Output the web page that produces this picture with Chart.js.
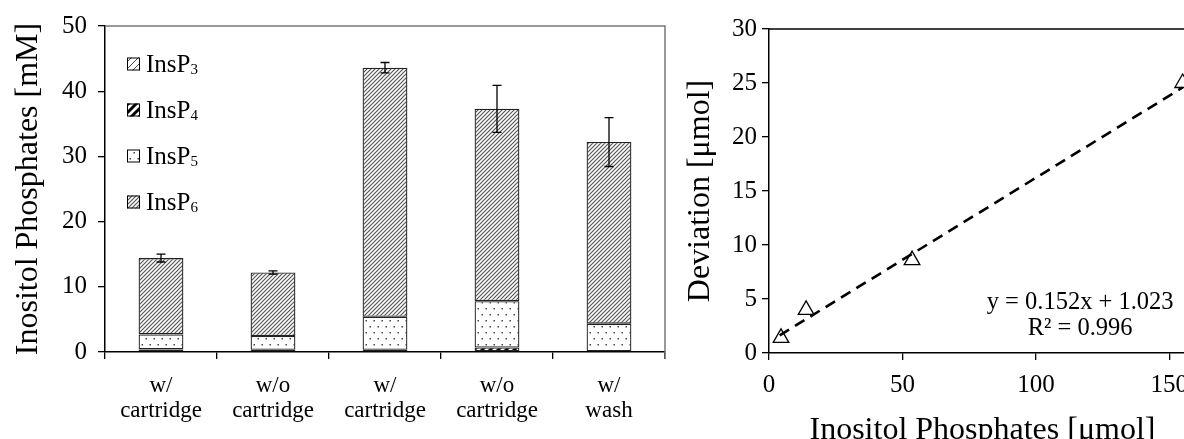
<!DOCTYPE html>
<html>
<head>
<meta charset="utf-8">
<script src="https://cdn.jsdelivr.net/npm/chart.js@4.4.1/dist/chart.umd.min.js"></script>
<style>
  html, body { margin: 0; padding: 0; background: #fff; overflow: hidden; width: 1184px; height: 439px; }
  #wrap { position: relative; width: 1184px; height: 439px; overflow: hidden; }
  #left { position: absolute; left: 0; top: 0; }
  #right { position: absolute; left: 680px; top: 0; }
</style>
</head>
<body>
<div id="wrap">
  <canvas id="left" width="680" height="439"></canvas>
  <canvas id="right" width="560" height="460"></canvas>
</div>
<script>
// ---- data: stacked inositol phosphate composition (mM) ----
const categories = [['w/', 'cartridge'], ['w/o', 'cartridge'], ['w/', 'cartridge'], ['w/o', 'cartridge'], ['w/', 'wash']];
const seriesNames = ['InsP3', 'InsP4', 'InsP5', 'InsP6'];
const insP3 = [0, 0, 0, 0, 0];
const insP4 = [0.4, 0.35, 0.35, 0.7, 0];
const insP5 = [2.3, 2.1, 5.05, 7.1, 4.35];
const insP6 = [11.7, 9.75, 38.2, 29.5, 27.85];
const totalError = [0.6, 0.25, 0.8, 3.6, 3.75];
const leftTicks = [0, 10, 20, 30, 40, 50];

// ---- data: deviation vs. amount (µmol) ----
const amountX = [4.5, 13.9, 53.6, 155];
const deviationY = [1.4, 4.0, 8.6, 25.0];
const fitSlope = 0.152;
const fitIntercept = 1.023;
const fitR2 = 0.996;
const fitRange = [4, 155];
const rightXTicks = [0, 50, 100, 150];
const rightXMax = 160;
const rightYTicks = [0, 5, 10, 15, 20, 25, 30];

const SERIF = '"Liberation Serif", "Times New Roman", serif';

// ---- fill patterns ----
function hatchPattern(size, lineWidth, color) {
  const c = document.createElement('canvas');
  c.width = size; c.height = size;
  const g = c.getContext('2d');
  g.fillStyle = '#fff';
  g.fillRect(0, 0, size, size);
  g.strokeStyle = color;
  g.lineWidth = lineWidth;
  g.beginPath();
  g.moveTo(0, size); g.lineTo(size, 0);
  g.moveTo(-size, size); g.lineTo(size, -size);
  g.moveTo(0, 2 * size); g.lineTo(2 * size, 0);
  g.stroke();
  return g.createPattern(c, 'repeat');
}
function dotPattern() {
  const c = document.createElement('canvas');
  c.width = 8; c.height = 12;
  const g = c.getContext('2d');
  g.fillStyle = '#fff';
  g.fillRect(0, 0, 8, 12);
  g.fillStyle = '#444';
  g.fillRect(1.5, 2, 1.5, 1.5);
  g.fillRect(5.5, 8, 1.5, 1.5);
  return g.createPattern(c, 'repeat');
}
const ctxL = document.getElementById('left').getContext('2d');
const fills = [
  hatchPattern(7, 0.9, '#333'),
  hatchPattern(8, 3, '#000'),
  dotPattern(),
  hatchPattern(4, 1.2, '#555')
];
const seriesValues = [insP3, insP4, insP5, insP6];

// legend drawn inside the plot, with subscript digits
const insideLegend = {
  id: 'insideLegend',
  afterDraw(chart) {
    const { ctx, chartArea } = chart;
    ctx.save();
    const x0 = chartArea.left + 22;
    seriesNames.forEach((name, i) => {
      const cy = chartArea.top + 38 + i * 46;
      ctx.fillStyle = fills[i];
      ctx.fillRect(x0, cy - 6.5, 13, 13);
      ctx.strokeStyle = '#000';
      ctx.lineWidth = 1;
      ctx.strokeRect(x0 + 0.5, cy - 6.5 + 0.5, 12, 12);
      ctx.fillStyle = '#000';
      ctx.textBaseline = 'middle';
      ctx.textAlign = 'left';
      ctx.font = '25px ' + SERIF;
      const base = name.slice(0, 4);
      ctx.fillText(base, x0 + 19, cy + 1);
      const w = ctx.measureText(base).width;
      ctx.font = '15px ' + SERIF;
      ctx.fillText(name.slice(4), x0 + 19 + w, cy + 6);
    });
    ctx.restore();
  }
};

// frame (top/right) around the plot
const plotFrame = {
  id: 'plotFrame',
  beforeDatasetsDraw(chart) {
    const { ctx, chartArea } = chart;
    ctx.save();
    ctx.strokeStyle = '#777';
    ctx.lineWidth = 1.5;
    ctx.beginPath();
    ctx.moveTo(chartArea.left, chartArea.top);
    ctx.lineTo(chartArea.right, chartArea.top);
    ctx.lineTo(chartArea.right, chartArea.bottom + 7);
    ctx.stroke();
    ctx.restore();
  }
};

// error bars on the total of each stack
const stackErrorBars = {
  id: 'stackErrorBars',
  afterDatasetsDraw(chart) {
    const { ctx } = chart;
    const y = chart.scales.y;
    const top = chart.getDatasetMeta(chart.data.datasets.length - 1);
    ctx.save();
    ctx.strokeStyle = '#000';
    ctx.lineWidth = 1.3;
    categories.forEach((_, i) => {
      const total = seriesValues.reduce((s, arr) => s + arr[i], 0);
      const x = top.data[i].x;
      const y1 = y.getPixelForValue(total + totalError[i]);
      const y2 = y.getPixelForValue(total - totalError[i]);
      ctx.beginPath();
      ctx.moveTo(x, y1); ctx.lineTo(x, y2);
      ctx.moveTo(x - 4.5, y1); ctx.lineTo(x + 4.5, y1);
      ctx.moveTo(x - 4.5, y2); ctx.lineTo(x + 4.5, y2);
      ctx.stroke();
    });
    ctx.restore();
  }
};

new Chart(ctxL, {
  type: 'bar',
  data: {
    labels: categories,
    datasets: seriesNames.map((name, i) => ({
      label: name,
      data: seriesValues[i],
      backgroundColor: fills[i],
      borderColor: '#222',
      borderWidth: 1.3,
      borderSkipped: false,
      barPercentage: 0.4,
      categoryPercentage: 1
    }))
  },
  options: {
    responsive: false,
    animation: false,
    devicePixelRatio: 1,
    layout: { padding: { left: 0, top: 25, right: 15, bottom: 0 } },
    plugins: { legend: { display: false }, tooltip: { enabled: false } },
    scales: {
      x: {
        stacked: true,
        afterFit(s) { s.height = 87; },
        grid: { drawOnChartArea: false, color: '#000', tickLength: 7, lineWidth: 1.3, offset: true },
        border: { color: '#000', width: 1.5 },
        ticks: { color: '#000', font: { family: SERIF, size: 23, lineHeight: 1.1 }, padding: 14, maxRotation: 0 }
      },
      y: {
        stacked: true,
        min: leftTicks[0],
        max: leftTicks[leftTicks.length - 1],
        afterFit(s) { s.width = 105; },
        afterBuildTicks(s) { s.ticks = leftTicks.map(v => ({ value: v })); },
        grid: { drawOnChartArea: false, color: '#000', tickLength: 7, lineWidth: 1.3 },
        border: { color: '#000', width: 1.5 },
        ticks: { color: '#000', font: { family: SERIF, size: 25 }, padding: 11 },
        title: { display: true, text: 'Inositol Phosphates [mM]', color: '#000', font: { family: SERIF, size: 32 }, padding: { top: 9, bottom: 0 } }
      }
    }
  },
  plugins: [plotFrame, stackErrorBars, insideLegend]
});

// ---- right chart ----
const fitText = {
  id: 'fitText',
  afterDraw(chart) {
    const { ctx, scales } = chart;
    ctx.save();
    ctx.fillStyle = '#000';
    ctx.font = '24.5px ' + SERIF;
    ctx.textAlign = 'center';
    ctx.textBaseline = 'middle';
    const cx = scales.x.getPixelForValue(116.6);
    ctx.fillText('y = ' + fitSlope.toFixed(3) + 'x + ' + fitIntercept.toFixed(3), cx, scales.y.getPixelForValue(4.7));
    ctx.fillText('R\u00B2 = ' + fitR2.toFixed(3), cx, scales.y.getPixelForValue(2.3));
    ctx.restore();
  }
};
const topLine = {
  id: 'topLine',
  beforeDatasetsDraw(chart) {
    const { ctx, chartArea } = chart;
    ctx.save();
    ctx.strokeStyle = '#000';
    ctx.lineWidth = 1.5;
    ctx.beginPath();
    ctx.moveTo(chartArea.left, chartArea.top);
    ctx.lineTo(chartArea.right, chartArea.top);
    ctx.stroke();
    ctx.restore();
  }
};

new Chart(document.getElementById('right').getContext('2d'), {
  type: 'scatter',
  data: {
    datasets: [
      {
        label: 'Deviation',
        data: amountX.map((x, i) => ({ x, y: deviationY[i] })),
        pointStyle: 'triangle',
        pointRadius: 9,
        pointBackgroundColor: 'rgba(255,255,255,0)',
        pointBorderColor: '#000',
        pointBorderWidth: 1.3,
        order: 1
      },
      {
        label: 'Linear fit',
        data: fitRange.map(x => ({ x, y: fitSlope * x + fitIntercept })),
        showLine: true,
        borderColor: '#000',
        borderWidth: 2.6,
        borderDash: [11, 7],
        pointRadius: 0,
        order: 2
      }
    ]
  },
  options: {
    responsive: false,
    animation: false,
    devicePixelRatio: 1,
    layout: { padding: { left: 0, top: 29, right: 44, bottom: 10 } },
    plugins: { legend: { display: false }, tooltip: { enabled: false } },
    scales: {
      x: {
        type: 'linear',
        min: rightXTicks[0],
        max: rightXMax,
        afterFit(s) { s.height = 97; },
        afterBuildTicks(s) { s.ticks = rightXTicks.map(v => ({ value: v })); },
        grid: { drawOnChartArea: false, color: '#000', tickLength: 7, lineWidth: 1.3 },
        border: { color: '#000', width: 1.5 },
        ticks: { color: '#000', font: { family: SERIF, size: 25 }, padding: 10 },
        title: { display: true, text: 'Inositol Phosphates [\u03BCmol]', color: '#000', font: { family: SERIF, size: 32 }, padding: { top: 0, bottom: 0 } }
      },
      y: {
        min: rightYTicks[0],
        max: rightYTicks[rightYTicks.length - 1],
        afterFit(s) { s.width = 89; },
        afterBuildTicks(s) { s.ticks = rightYTicks.map(v => ({ value: v })); },
        grid: { drawOnChartArea: false, color: '#000', tickLength: 7, lineWidth: 1.3 },
        border: { color: '#000', width: 1.5 },
        ticks: { color: '#000', font: { family: SERIF, size: 25 }, padding: 5 },
        title: { display: true, text: 'Deviation [\u03BCmol]', color: '#000', font: { family: SERIF, size: 32 }, padding: { top: 1, bottom: 0 } }
      }
    }
  },
  plugins: [topLine, fitText]
});
</script>
</body>
</html>
